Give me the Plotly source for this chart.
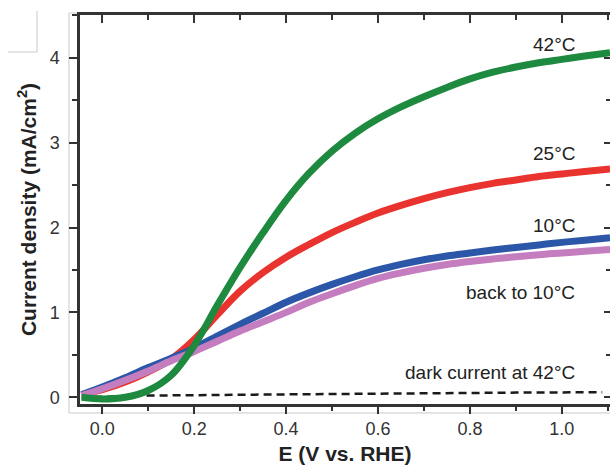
import plotly.graph_objects as go

# Potential (V vs. RHE) sampling points shared by the photocurrent sweeps
potential = [-0.045, 0.0, 0.05, 0.1, 0.15, 0.2, 0.25, 0.3, 0.35, 0.4, 0.45, 0.5,
             0.55, 0.6, 0.65, 0.7, 0.75, 0.8, 0.85, 0.9, 0.95, 1.0, 1.05, 1.105]

# Current density (mA/cm^2) for each sweep
j_42c = [0.0, -0.02, 0.0, 0.08, 0.26, 0.61, 1.08, 1.53, 1.94, 2.32, 2.64, 2.90,
         3.11, 3.28, 3.42, 3.54, 3.65, 3.75, 3.83, 3.89, 3.94, 3.98, 4.02, 4.06]
j_25c = [0.03, 0.09, 0.18, 0.30, 0.45, 0.68, 0.97, 1.25, 1.47, 1.65, 1.80, 1.94,
         2.06, 2.17, 2.26, 2.34, 2.41, 2.47, 2.52, 2.56, 2.60, 2.63, 2.66, 2.69]
j_10c = [0.03, 0.12, 0.23, 0.35, 0.46, 0.58, 0.72, 0.86, 0.99, 1.12, 1.23, 1.33,
         1.42, 1.50, 1.565, 1.62, 1.665, 1.70, 1.735, 1.765, 1.795, 1.825, 1.85, 1.88]
j_back_10c = [0.02, 0.10, 0.20, 0.31, 0.43, 0.54, 0.66, 0.78, 0.89, 1.00, 1.12, 1.22,
              1.315, 1.40, 1.465, 1.52, 1.565, 1.60, 1.63, 1.655, 1.68, 1.70, 1.72, 1.74]

# Dark current at 42 °C
dark_potential = [-0.045, 0.1, 0.3, 0.5, 0.7, 0.9, 1.088]
dark_j = [0.0, 0.02, 0.03, 0.04, 0.05, 0.055, 0.06]

labels = ["42°C", "25°C", "10°C", "back to 10°C", "dark current at 42°C"]
label_y = [4.16, 2.87, 2.02, 1.24, 0.29]

colors = {"42": "#1e8a3f", "25": "#e9332f", "10": "#2c56a7", "back": "#c47dbf"}

fig = go.Figure()
fig.add_trace(go.Scatter(x=dark_potential, y=dark_j, mode="lines",
                         line=dict(color="#1a1a1a", width=2.5, dash="8px,5px")))
fig.add_trace(go.Scatter(x=potential, y=j_25c, mode="lines", line_shape="spline",
                         line=dict(color=colors["25"], width=7)))
fig.add_trace(go.Scatter(x=potential, y=j_10c, mode="lines", line_shape="spline",
                         line=dict(color=colors["10"], width=7)))
fig.add_trace(go.Scatter(x=potential, y=j_back_10c, mode="lines", line_shape="spline",
                         line=dict(color=colors["back"], width=7)))
fig.add_trace(go.Scatter(x=potential, y=j_42c, mode="lines", line_shape="spline",
                         line=dict(color=colors["42"], width=7)))
# empty trace so the mirrored top/right axes get drawn
fig.add_trace(go.Scatter(x=[], y=[], xaxis="x2", yaxis="y2", showlegend=False))

for text, yv in zip(labels, label_y):
    fig.add_annotation(x=1.032, y=yv, text=text, showarrow=False, xanchor="right",
                       yanchor="middle",
                       font=dict(family="Liberation Sans, Arial", size=19, color="#222"))

xr = [-0.0485, 1.1049]
yr = [-0.079, 4.503]
axis_font = dict(family="Liberation Sans, Arial", size=18, color="#333")
fig.update_layout(
    width=610, height=466,
    margin=dict(l=80, r=0, t=15, b=62),
    paper_bgcolor="white", plot_bgcolor="white",
    showlegend=False,
    xaxis=dict(range=xr, dtick=0.2, tick0=0, tickformat=".1f", ticks="outside",
               ticklen=7, tickwidth=2, tickcolor="#333", showline=True, linewidth=2.5,
               linecolor="#333", showgrid=False, zeroline=False, tickfont=axis_font,
               minor=dict(dtick=0.1, tick0=0, ticks="outside", ticklen=4, tickwidth=1.5,
                          tickcolor="#333"),
               title=dict(text="<b>E (V vs. RHE)</b>", standoff=8,
                          font=dict(family="Liberation Sans, Arial", size=21, color="#222"))),
    yaxis=dict(range=yr, dtick=1, tick0=0, ticks="outside", ticklen=8, tickwidth=2,
               tickcolor="#333", showline=True, linewidth=2.5, linecolor="#333",
               showgrid=False, zeroline=False, tickfont=axis_font, ticklabelstandoff=6,
               minor=dict(dtick=0.5, tick0=0, ticks="outside", ticklen=5, tickwidth=1.5,
                          tickcolor="#333"),
               title=dict(text="<b>Current density (mA/cm<sup>2</sup>)</b>", standoff=8,
                          font=dict(family="Liberation Sans, Arial", size=21, color="#222"))),
    xaxis2=dict(range=xr, overlaying="x", side="top", matches="x", dtick=0.2, tick0=0,
                ticks="inside", ticklen=8, tickwidth=2, tickcolor="#333",
                showticklabels=False, showline=True, linewidth=2.5, linecolor="#333",
                showgrid=False, zeroline=False,
                minor=dict(dtick=0.1, tick0=0, ticks="inside", ticklen=5, tickwidth=1.5,
                           tickcolor="#333")),
    yaxis2=dict(range=yr, overlaying="y", side="right", dtick=1, tick0=0,
                ticks="inside", ticklen=6, tickwidth=2, tickcolor="#333",
                showticklabels=False, showline=False, showgrid=False, zeroline=False,
                minor=dict(dtick=0.5, tick0=0, ticks="inside", ticklen=4, tickwidth=1.5,
                           tickcolor="#333")),
)

# light frame around the panel and the corner mark at the upper left
frame = dict(color="#c9c9c9", width=1)
fig.add_shape(type="rect", xref="paper", yref="paper", x0=-0.0208, y0=-0.0231,
              x1=1.02, y1=1.0051, line=frame, layer="below")
fig.add_shape(type="line", xref="paper", yref="paper", x0=-0.1358, y0=0.9049,
              x1=-0.0811, y1=0.9049, line=frame)
fig.add_shape(type="line", xref="paper", yref="paper", x0=-0.0811, y0=0.9049,
              x1=-0.0811, y1=1.0103, line=frame)

fig.write_html("out.html")
